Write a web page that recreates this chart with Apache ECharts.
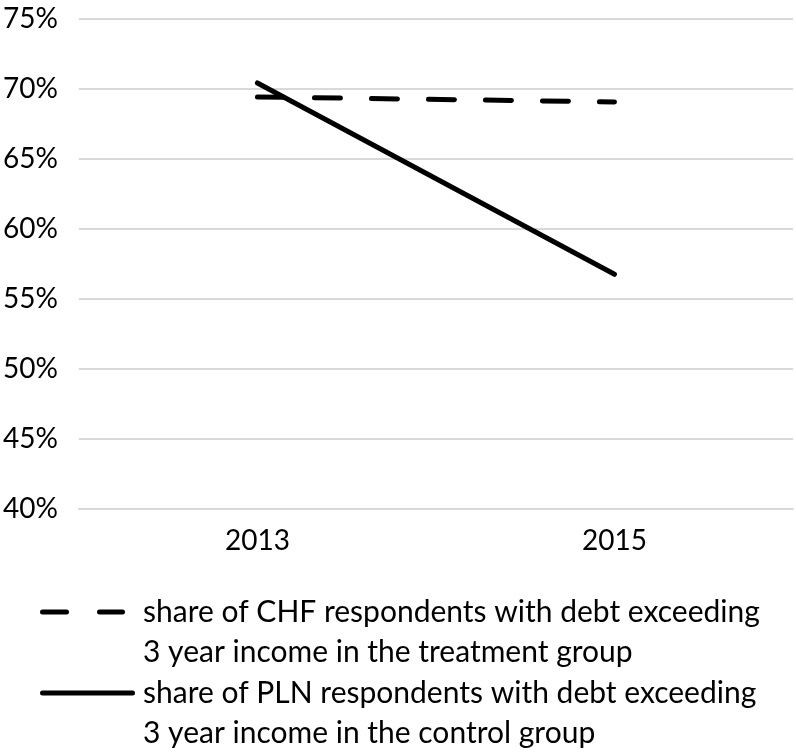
<!DOCTYPE html>
<html>
<head>
<meta charset="utf-8">
<script src="https://cdn.jsdelivr.net/npm/echarts@6/dist/echarts.min.js"></script>
<style>html,body{margin:0;padding:0;background:#fff;}#c{width:796px;height:752px;}</style>
</head>
<body>
<div id="c"></div>
<script>
const categories = ['2013', '2015'];
const chfTreatment = [69.4, 69.05];
const plnControl = [70.4, 56.75];
const seriesNames = [
  'share of CHF respondents with debt exceeding\n3 year income in the treatment group',
  'share of PLN respondents with debt exceeding\n3 year income in the control group'
];
const yMin = 40, yMax = 75, yStep = 5;

const FONT = 'Lato';
const chart = echarts.init(document.getElementById('c'), null, {renderer: 'canvas'});

function legendFormatter(key) {
  return function (name) {
    return '{e| }\n' + name.split('\n').map(function (l) { return '{' + key + '|' + l + '}'; }).join('\n');
  };
}
const rich = {
  e: {fontFamily: FONT, fontSize: 30, lineHeight: 40},
  ta: {fontFamily: FONT, fontSize: 30, lineHeight: 40, color: '#000', padding: [0, 0, 0, 13]},
  tb: {fontFamily: FONT, fontSize: 30, lineHeight: 40, color: '#000', padding: [0, 0, 0, 3]}
};
const dashIcon = 'path://M2.5,0H26.5A2.5,2.5 0 0 1 26.5,5H2.5A2.5,2.5 0 0 1 2.5,0ZM59.5,0H82.5A2.5,2.5 0 0 1 82.5,5H59.5A2.5,2.5 0 0 1 59.5,0Z';
const solidIcon = 'path://M2.5,0H92.5A2.5,2.5 0 0 1 92.5,5H2.5A2.5,2.5 0 0 1 2.5,0Z';

chart.setOption({
  animation: false,
  backgroundColor: '#fff',
  grid: {left: 73, right: 3, top: 18.5, bottom: 243, containLabel: false},
  xAxis: {
    type: 'category', data: categories, boundaryGap: true,
    axisLine: {show: true, lineStyle: {color: '#d9d9d9', width: 2}},
    axisTick: {show: false},
    axisLabel: {fontFamily: FONT, fontSize: 28, color: '#000', margin: 18}
  },
  yAxis: {
    type: 'value', min: yMin, max: yMax, interval: yStep,
    axisLine: {show: false}, axisTick: {show: false},
    splitLine: {lineStyle: {color: '#d9d9d9', width: 2}},
    axisLabel: {fontFamily: FONT, fontSize: 28, color: '#000', margin: 21, formatter: '{value}%'}
  },
  legend: [
    {data: [{name: seriesNames[0], icon: dashIcon}], left: 40, top: 557, padding: 0, orient: 'vertical',
     itemWidth: 85, itemHeight: 5, symbolKeepAspect: false, selectedMode: false,
     formatter: legendFormatter('ta'), textStyle: {fontFamily: FONT, fontSize: 30, color: '#000', rich: rich}},
    {data: [{name: seriesNames[1], icon: solidIcon}], left: 40, top: 638, padding: 0, orient: 'vertical',
     itemWidth: 95, itemHeight: 5, symbolKeepAspect: false, selectedMode: false,
     formatter: legendFormatter('tb'), textStyle: {fontFamily: FONT, fontSize: 30, color: '#000', rich: rich}}
  ],
  series: [
    {name: seriesNames[0], type: 'line', data: chfTreatment, symbol: 'none',
     lineStyle: {color: '#000', width: 5, type: [26, 31], cap: 'round'}, itemStyle: {color: '#000'}},
    {name: seriesNames[1], type: 'line', data: plnControl, symbol: 'none',
     lineStyle: {color: '#000', width: 5, cap: 'round'}, itemStyle: {color: '#000'}}
  ]
});
</script>
</body>
</html>
